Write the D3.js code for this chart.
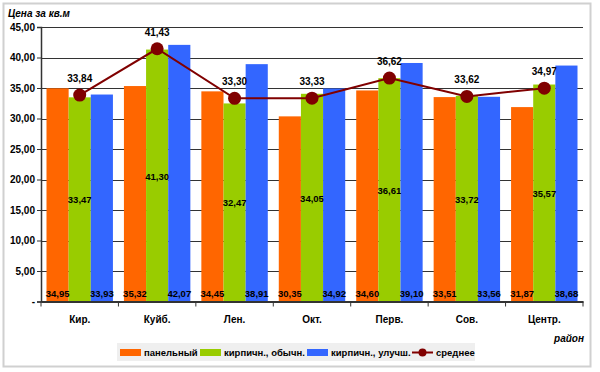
<!DOCTYPE html>
<html>
<head>
<meta charset="utf-8">
<script src="https://cdn.jsdelivr.net/npm/d3@7"></script>
<style>
  body { margin: 0; background: #fff; }
  svg { display: block; }
  text { font-family: "Liberation Sans", Arial, sans-serif; font-weight: bold; fill: #000; }
</style>
</head>
<body>
<div id="chart"></div>
<script>
var categories = ["Кир.", "Куйб.", "Лен.", "Окт.", "Перв.", "Сов.", "Центр."];
var seriesNames = ["панельный", "кирпичн., обычн.", "кирпичн., улучш."];
var panel = [34.95, 35.32, 34.45, 30.35, 34.60, 33.51, 31.87];
var brickPlain = [33.47, 41.30, 32.47, 34.05, 36.61, 33.72, 35.57];
var brickBetter = [33.93, 42.07, 38.91, 34.92, 39.10, 33.56, 38.68];
var average = [33.84, 41.43, 33.30, 33.33, 36.62, 33.62, 34.97];
var avgName = "среднее";
var yTicks = [0, 5, 10, 15, 20, 25, 30, 35, 40, 45];

var colors = ["#ff6600", "#99cc00", "#3366ff"];
var lineColor = "#800000";

var w = 600, h = 372;
var fmt = function(v) { return v.toFixed(2).replace(".", ","); };

var svg = d3.select("#chart")
  .append("svg")
  .attr("width", w)
  .attr("height", h);

// chart frame
svg.append("rect")
  .attr("x", 3.5).attr("y", 3.5)
  .attr("width", 587).attr("height", 363)
  .attr("fill", "#fff")
  .attr("stroke", "#d0d0d0")
  .attr("stroke-width", 2);

var xScale = d3.scaleBand()
  .domain(categories)
  .range([41, 583]);

var xInner = d3.scaleBand()
  .domain(d3.range(seriesNames.length))
  .range([5.5, xScale.bandwidth() - 5.5]);

var yScale = d3.scaleLinear()
  .domain([0, 45])
  .range([301.5, 27]);

// gridlines
svg.append("g")
  .selectAll("line")
  .data(yTicks.filter(function(d) { return d > 0; }))
  .enter()
  .append("line")
  .attr("x1", 41)
  .attr("x2", 583)
  .attr("y1", function(d) { return Math.round(yScale(d)) + 0.5; })
  .attr("y2", function(d) { return Math.round(yScale(d)) + 0.5; })
  .attr("stroke", "#333")
  .attr("stroke-width", 1);

// bars
var allSeries = [panel, brickPlain, brickBetter];
var barData = [];
allSeries.forEach(function(s, si) {
  s.forEach(function(v, ci) {
    barData.push({ s: si, c: categories[ci], v: v });
  });
});

svg.append("g")
  .selectAll("rect")
  .data(barData)
  .enter()
  .append("rect")
  .attr("x", function(d) { return xScale(d.c) + xInner(d.s); })
  .attr("y", function(d) { return yScale(d.v); })
  .attr("width", xInner.bandwidth())
  .attr("height", function(d) { return yScale(0) - yScale(d.v); })
  .attr("fill", function(d) { return colors[d.s]; });

// bar value labels
svg.append("g")
  .selectAll("text")
  .data(barData)
  .enter()
  .append("text")
  .text(function(d) { return fmt(d.v); })
  .attr("x", function(d) { return xScale(d.c) + xInner(d.s) + xInner.bandwidth() / 2; })
  .attr("y", function(d) {
    if (d.s === 1) return (yScale(d.v) + yScale(0)) / 2 + 4;
    return yScale(0) - 5;
  })
  .attr("font-size", "9.5px")
  .attr("text-anchor", "middle");

// y axis
var yAxis = d3.axisLeft(yScale)
  .tickValues(yTicks)
  .tickSize(4)
  .tickFormat(function(d) { return d === 0 ? "-" : fmt(d); });

var gy = svg.append("g")
  .attr("transform", "translate(41,0)")
  .call(yAxis);
gy.select(".domain").attr("stroke", "#333").attr("stroke-width", 1.5);
gy.selectAll(".tick line").attr("stroke", "#333");
gy.selectAll(".tick text")
  .attr("font-size", "10px")
  .attr("font-family", "Liberation Sans, Arial, sans-serif")
  .attr("font-weight", "bold")
  .attr("x", -6);

// x axis
var xAxis = d3.axisBottom(xScale).tickSize(0).tickSizeOuter(0);
var gx = svg.append("g")
  .attr("transform", "translate(0," + yScale(0) + ")")
  .call(xAxis);
gx.select(".domain").attr("stroke", "#333").attr("stroke-width", 2);
gx.selectAll(".tick text")
  .attr("font-size", "10px")
  .attr("font-family", "Liberation Sans, Arial, sans-serif")
  .attr("font-weight", "bold")
  .attr("dy", "1.8em");

// category separator ticks
gx.selectAll(".sep")
  .data(categories.concat(["end"]))
  .enter()
  .append("line")
  .attr("class", "sep")
  .attr("x1", function(d, i) { return i < categories.length ? xScale(d) : xScale.range()[1]; })
  .attr("x2", function(d, i) { return i < categories.length ? xScale(d) : xScale.range()[1]; })
  .attr("y1", 0)
  .attr("y2", 5)
  .attr("stroke", "#333");

// average line
var line = d3.line()
  .x(function(d, i) { return xScale(categories[i]) + xScale.bandwidth() / 2; })
  .y(function(d) { return yScale(d); });

svg.append("path")
  .datum(average)
  .attr("d", line)
  .attr("fill", "none")
  .attr("stroke", lineColor)
  .attr("stroke-width", 2);

svg.append("g")
  .selectAll("circle")
  .data(average)
  .enter()
  .append("circle")
  .attr("cx", function(d, i) { return xScale(categories[i]) + xScale.bandwidth() / 2; })
  .attr("cy", function(d) { return yScale(d); })
  .attr("r", 6.5)
  .attr("fill", lineColor);

svg.append("g")
  .selectAll("text")
  .data(average)
  .enter()
  .append("text")
  .text(function(d) { return fmt(d); })
  .attr("x", function(d, i) { return xScale(categories[i]) + xScale.bandwidth() / 2; })
  .attr("y", function(d) { return yScale(d) - 13; })
  .attr("font-size", "10px")
  .attr("text-anchor", "middle");

// titles
svg.append("text")
  .text("Цена за кв.м")
  .attr("x", 8)
  .attr("y", 17)
  .attr("font-size", "10px")
  .attr("font-style", "italic");

svg.append("text")
  .text("район")
  .attr("x", 584)
  .attr("y", 342)
  .attr("font-size", "10px")
  .attr("font-style", "italic")
  .attr("text-anchor", "end");

// legend
var legend = svg.append("g");
legend.append("rect")
  .attr("x", 117).attr("y", 343)
  .attr("width", 358).attr("height", 18)
  .attr("fill", "#efefef");

var legendX = [120, 200, 307, 412];
seriesNames.forEach(function(name, i) {
  legend.append("rect")
    .attr("x", legendX[i]).attr("y", 349)
    .attr("width", 21).attr("height", 7)
    .attr("fill", colors[i]);
  legend.append("text")
    .text(name)
    .attr("x", legendX[i] + 24)
    .attr("y", 356)
    .attr("font-size", "9.5px");
});
legend.append("line")
  .attr("x1", legendX[3]).attr("x2", legendX[3] + 21)
  .attr("y1", 352.5).attr("y2", 352.5)
  .attr("stroke", lineColor).attr("stroke-width", 2);
legend.append("circle")
  .attr("cx", legendX[3] + 10.5).attr("cy", 352.5)
  .attr("r", 4)
  .attr("fill", lineColor);
legend.append("text")
  .text(avgName)
  .attr("x", legendX[3] + 24)
  .attr("y", 356)
  .attr("font-size", "9.5px");
</script>
</body>
</html>
